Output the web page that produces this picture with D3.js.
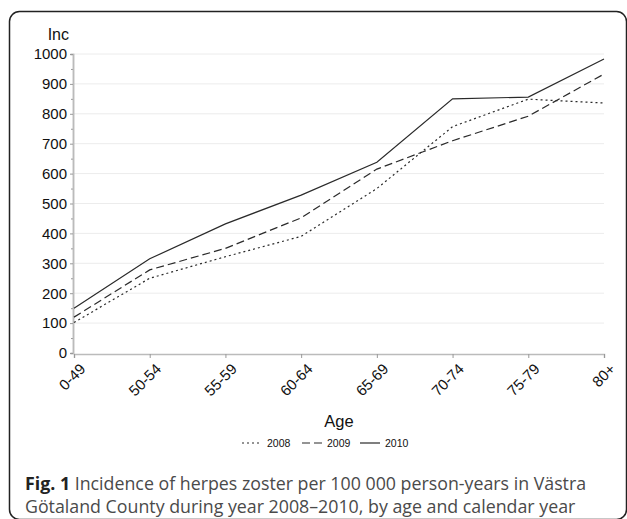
<!DOCTYPE html>
<html>
<head>
<meta charset="utf-8">
<script src="https://cdn.jsdelivr.net/npm/d3@7"></script>
<style>
  body { margin: 0; background: #fff; }
  svg { display: block; }
</style>
</head>
<body>
<svg id="chart" width="627" height="519"></svg>
<script>
const ages = ['0-49', '50-54', '55-59', '60-64', '65-69', '70-74', '75-79', '80+'];
const years = ['2008', '2009', '2010'];
const inc2008 = [102, 250, 322, 390, 550, 757, 849, 836];
const inc2009 = [120, 278, 350, 452, 615, 710, 792, 933];
const inc2010 = [150, 315, 432, 528, 638, 850, 856, 983];
const yTicks = [0, 100, 200, 300, 400, 500, 600, 700, 800, 900, 1000];
const captionLines = [
    ['Fig. 1', ' Incidence of herpes zoster per 100 000 person-years in Västra'],
    ['', 'Götaland County during year 2008–2010, by age and calendar year']
];

const series = [
    { year: years[0], values: inc2008, dash: '2,3' },
    { year: years[1], values: inc2009, dash: '8,4' },
    { year: years[2], values: inc2010, dash: null }
];

const svg = d3.select('#chart');
const plot = { left: 74, right: 604, top: 54, bottom: 353 };
const font = 'Liberation Sans, Arial, sans-serif';

// outer frame
svg.append('rect')
    .attr('x', 9.5).attr('y', 11.5)
    .attr('width', 617).attr('height', 508)
    .attr('rx', 10)
    .attr('fill', 'none')
    .attr('stroke', '#222')
    .attr('stroke-width', 1.5);

const x = d3.scalePoint().domain(ages).range([plot.left, plot.right]);
const y = d3.scaleLinear().domain([0, 1000]).range([plot.bottom, plot.top]);

// gridlines
svg.append('g')
    .selectAll('line')
    .data(yTicks.slice(1))
    .enter().append('line')
    .attr('x1', plot.left).attr('x2', plot.right)
    .attr('y1', d => y(d)).attr('y2', d => y(d))
    .attr('stroke', '#ececec')
    .attr('stroke-width', 1);

// y axis with minor ticks
const yMinor = svg.append('g').attr('transform', `translate(${plot.left - 1},0)`);
yMinor.call(d3.axisLeft(y).tickValues(d3.range(50, 1000, 100)).tickSize(2).tickFormat(''));
const yAxis = svg.append('g').attr('transform', `translate(${plot.left - 1},0)`);
yAxis.call(d3.axisLeft(y).tickValues(yTicks).tickSize(3).tickPadding(3).tickFormat(d3.format('d')));
[yMinor, yAxis].forEach(g => {
    g.select('.domain').attr('stroke', '#bbb').attr('stroke-width', 1.5);
    g.selectAll('.tick line').attr('stroke', '#999');
});
yAxis.selectAll('text')
    .attr('font-family', font)
    .attr('font-size', 15)
    .attr('fill', '#111');

svg.append('text')
    .attr('x', 69).attr('y', 40)
    .attr('text-anchor', 'end')
    .attr('font-family', font)
    .attr('font-size', 16)
    .attr('fill', '#111')
    .text('Inc');

// x axis
const xAxis = svg.append('g').attr('transform', `translate(0,${plot.bottom + 1})`);
xAxis.call(d3.axisBottom(x).tickSize(4).tickPadding(2));
xAxis.select('.domain').attr('stroke', '#bbb').attr('stroke-width', 1.5);
xAxis.selectAll('.tick line').attr('stroke', '#999');
xAxis.selectAll('text')
    .attr('font-family', font)
    .attr('font-size', 15)
    .attr('fill', '#111')
    .attr('text-anchor', 'end')
    .attr('dy', '0.35em')
    .attr('transform', 'translate(4,8) rotate(-45)');

svg.append('text')
    .attr('x', (plot.left + plot.right) / 2).attr('y', 427)
    .attr('text-anchor', 'middle')
    .attr('font-family', font)
    .attr('font-size', 16.5)
    .attr('fill', '#111')
    .text('Age');

// lines
const line = d3.line()
    .x((d, i) => x(ages[i]))
    .y(d => y(d));

svg.append('g')
    .selectAll('path')
    .data(series)
    .enter().append('path')
    .attr('d', d => line(d.values))
    .attr('fill', 'none')
    .attr('stroke', '#2a2a2a')
    .attr('stroke-width', 1.2)
    .attr('stroke-dasharray', d => d.dash);

// legend
const legendX = [242, 302, 360];
const lg = svg.append('g')
    .selectAll('g')
    .data(series)
    .enter().append('g')
    .attr('transform', (d, i) => `translate(${legendX[i]},443)`);
lg.append('line')
    .attr('x1', 0).attr('x2', 20)
    .attr('y1', 0).attr('y2', 0)
    .attr('stroke', '#2a2a2a')
    .attr('stroke-width', 1.2)
    .attr('stroke-dasharray', d => d.dash);
lg.append('text')
    .attr('x', 25).attr('y', 4)
    .attr('font-family', font)
    .attr('font-size', 10.5)
    .attr('fill', '#111')
    .text(d => d.year);

// caption
const cap = svg.append('g')
    .selectAll('text')
    .data(captionLines)
    .enter().append('text')
    .attr('x', 25)
    .attr('y', (d, i) => 490 + i * 23)
    .attr('font-family', 'Open Sans, sans-serif')
    .attr('font-size', 17.8)
    .attr('fill', '#4a4a4a');
cap.append('tspan')
    .attr('font-weight', 'bold')
    .attr('fill', '#222')
    .text(d => d[0]);
cap.append('tspan')
    .text(d => d[1]);
</script>
</body>
</html>
